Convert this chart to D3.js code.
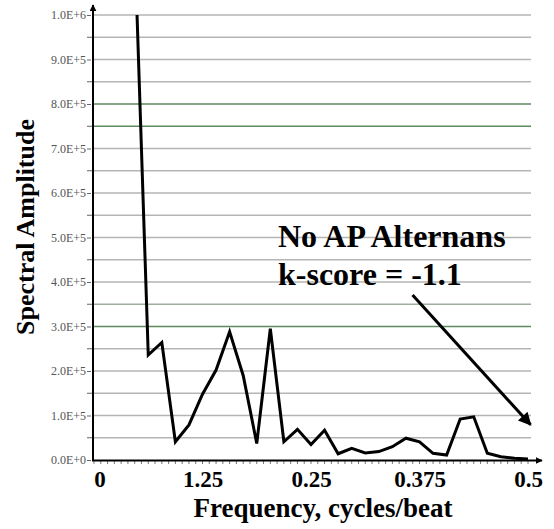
<!DOCTYPE html>
<html>
<head>
<meta charset="utf-8">
<script src="https://cdn.jsdelivr.net/npm/d3@7"></script>
<style>
  body { margin: 0; background: #fff; }
  svg { display: block; }
</style>
</head>
<body>
<div class="chart"></div>
<script>
// spectrum bins (cycles/beat) and amplitudes
const freqs = [0.046875, 0.0625, 0.078125, 0.09375, 0.109375, 0.125, 0.140625, 0.15625,
  0.171875, 0.1875, 0.203125, 0.21875, 0.234375, 0.25, 0.265625, 0.28125, 0.296875,
  0.3125, 0.328125, 0.34375, 0.359375, 0.375, 0.390625, 0.40625, 0.421875, 0.4375,
  0.453125, 0.46875, 0.484375, 0.5];
const amps = [1160000, 236000, 264000, 41000, 79000, 148000, 202000, 288000, 190000,
  37000, 295000, 41000, 69000, 35000, 67000, 14000, 26000, 16000, 19000, 30000, 49000,
  41000, 15000, 11000, 92000, 97000, 15000, 7500, 4000, 2500];

const xTicks = [0, 0.125, 0.25, 0.375, 0.5];
const xTickLabels = ["0", "1.25", "0.25", "0.375", "0.5"];
const yTicks = [0, 100000, 200000, 300000, 400000, 500000, 600000, 700000, 800000, 900000, 1000000];
const gridVals = [50000, 100000, 150000, 200000, 250000, 300000, 350000, 400000, 450000,
  500000, 550000, 600000, 650000, 700000, 750000, 800000, 850000, 900000, 950000, 1000000];
const greenGrid = [300000, 750000, 800000];

const W = 554, H = 529;
const svg = d3.select(".chart").append("svg").attr("width", W).attr("height", H);

const x = d3.scaleLinear().domain([0, 0.5]).range([94, 528]);
const y = d3.scaleLinear().domain([0, 1000000]).range([460, 15]);

// gridlines
svg.append("g")
  .selectAll("line")
  .data(gridVals)
  .join("line")
  .attr("x1", 93)
  .attr("x2", 531)
  .attr("y1", d => y(d))
  .attr("y2", d => y(d))
  .attr("stroke", d => greenGrid.includes(d) ? "#5e8a5e" : (d === 350000 ? "#9fae9f" : "#b5b5b5"))
  .attr("stroke-width", 1.7);

// y ticks (labelled + minor)
const yAxis = d3.axisLeft(y)
  .tickValues(yTicks)
  .tickSize(4)
  .tickPadding(1)
  .tickFormat(d => d.toExponential(1).toUpperCase());
const gy = svg.append("g").attr("transform", "translate(91,0)").call(yAxis);
gy.select(".domain").remove();
gy.selectAll(".tick line").attr("stroke", "#666");
gy.selectAll(".tick text")
  .attr("fill", "#555")
  .style("font-family", "Liberation Serif, serif")
  .style("font-size", "12px");
svg.append("g")
  .selectAll("line")
  .data(gridVals.filter(d => !yTicks.includes(d)))
  .join("line")
  .attr("x1", 87).attr("x2", 92)
  .attr("y1", d => y(d)).attr("y2", d => y(d))
  .attr("stroke", "#666");

// x minor ticks below the axis
const minor = d3.range(0, 65).map(i => i / 128);
svg.append("g")
  .selectAll("line")
  .data(minor)
  .join("line")
  .attr("x1", d => x(d)).attr("x2", d => x(d))
  .attr("y1", 461).attr("y2", 464)
  .attr("stroke", "#555")
  .attr("stroke-width", 0.8);

// arrow markers
const defs = svg.append("defs");
defs.append("marker")
  .attr("id", "ah")
  .attr("viewBox", "0 0 10 10")
  .attr("refX", 9).attr("refY", 5)
  .attr("markerWidth", 16).attr("markerHeight", 13)
  .attr("markerUnits", "userSpaceOnUse")
  .attr("orient", "auto")
  .append("path").attr("d", "M0,0 L10,5 L0,10 z").attr("fill", "#000");
defs.append("marker")
  .attr("id", "ah2")
  .attr("viewBox", "0 0 10 10")
  .attr("refX", 9).attr("refY", 5)
  .attr("markerWidth", 7).attr("markerHeight", 7)
  .attr("markerUnits", "userSpaceOnUse")
  .attr("orient", "auto")
  .append("path").attr("d", "M0,0 L10,5 L0,10 z").attr("fill", "#000");
defs.append("clipPath").attr("id", "plot")
  .append("rect").attr("x", 93).attr("y", y(1000000)).attr("width", 450).attr("height", 450);

// axes lines
svg.append("line")
  .attr("x1", 93).attr("x2", 93).attr("y1", 461).attr("y2", 5)
  .attr("stroke", "#000").attr("stroke-width", 2)
  .attr("marker-end", "url(#ah2)");
svg.append("line")
  .attr("x1", 92).attr("x2", 542).attr("y1", 460.5).attr("y2", 460.5)
  .attr("stroke", "#000").attr("stroke-width", 2)
  .attr("marker-end", "url(#ah2)");

// x tick labels
const xAxis = d3.axisBottom(x)
  .tickValues(xTicks)
  .tickSize(0)
  .tickPadding(9)
  .tickFormat((d, i) => xTickLabels[i]);
const gx = svg.append("g").attr("transform", "translate(0,462)").call(xAxis);
gx.select(".domain").remove();
gx.selectAll(".tick text")
  .attr("fill", "#000")
  .style("font-family", "Liberation Serif, serif")
  .style("font-weight", "bold")
  .style("font-size", "23px");
gx.selectAll(".tick").filter(d => d === 0).attr("transform", "translate(100,0)");

// spectrum line
const line = d3.line().x((d, i) => x(freqs[i])).y(d => y(d));
svg.append("path")
  .datum(amps)
  .attr("clip-path", "url(#plot)")
  .attr("d", line)
  .attr("fill", "none")
  .attr("stroke", "#000")
  .attr("stroke-width", 3)
  .attr("stroke-linejoin", "miter");

// annotation
svg.append("text")
  .attr("x", 278).attr("y", 247)
  .style("font-family", "Liberation Serif, serif")
  .style("font-weight", "bold")
  .style("font-size", "32px")
  .text("No AP Alternans");
svg.append("text")
  .attr("x", 278).attr("y", 285)
  .style("font-family", "Liberation Serif, serif")
  .style("font-weight", "bold")
  .style("font-size", "32px")
  .text("k-score = -1.1");
svg.append("line")
  .attr("x1", x(0.367)).attr("y1", y(371000))
  .attr("x2", x(0.503)).attr("y2", y(79000))
  .attr("stroke", "#000").attr("stroke-width", 3)
  .attr("marker-end", "url(#ah)");

// axis titles
svg.append("text")
  .attr("x", 323).attr("y", 517)
  .attr("text-anchor", "middle")
  .style("font-family", "Liberation Serif, serif")
  .style("font-weight", "bold")
  .style("font-size", "27px")
  .text("Frequency, cycles/beat");
svg.append("text")
  .attr("transform", "translate(34,227) rotate(-90)")
  .attr("text-anchor", "middle")
  .style("font-family", "Liberation Serif, serif")
  .style("font-weight", "bold")
  .style("font-size", "26px")
  .text("Spectral Amplitude");
</script>
</body>
</html>
